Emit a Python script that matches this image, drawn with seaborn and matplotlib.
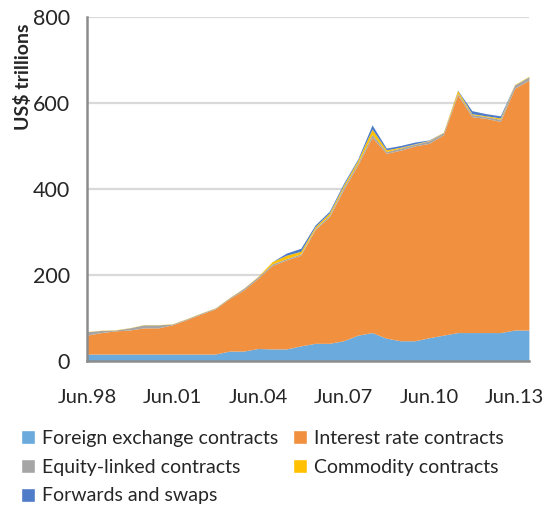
import numpy as np
import pandas as pd
import matplotlib
matplotlib.use("Agg")
import matplotlib.pyplot as plt
import seaborn as sns
from matplotlib.patches import Patch

# half-yearly observations, Jun.98 .. Dec.13
periods = [f"{m}.{y:02d}" for y in list(range(98, 100)) + list(range(0, 14)) for m in ("Jun", "Dec")]
tick_labels = ["Jun.98", "Jun.01", "Jun.04", "Jun.07", "Jun.10", "Jun.13"]

fx = [16, 16, 16, 16, 16, 16, 16, 16, 16, 16, 23, 23, 29, 28, 28, 35,
      41, 41, 47, 60, 66, 53, 47, 47, 54, 60, 66, 66, 66, 66, 72, 72]
fx_plus_ir = [60, 66, 70, 72, 77, 77, 84, 96, 109, 121, 145, 165, 192, 222, 235, 246,
              305, 335, 398, 456, 520, 483, 490, 500, 506, 526, 619, 568, 564, 557, 634, 653]
equity = [8, 5, 2, 5, 7, 7, 2, 2, 2, 2, 2, 4, 4, 4, 3, 3,
          3, 4, 6, 5, 7, 4, 5, 4, 6, 5, 4, 5, 4, 5, 8, 8]
commodity = [0.5, 0.5, 0.5, 0.5, 0.5, 0.5, 0.5, 0.5, 0.5, 0.5, 0.5, 0.5, 1, 5, 8, 6,
             4, 5, 5, 6, 12, 4, 2, 1, 1, 1, 6, 2, 2, 3, 1, 1]
forwards = [0, 0, 0, 0, 0, 0, 0, 0, 0, 0, 0, 0, 0, 0, 5, 7,
            4, 4, 4, 3, 10, 4, 4, 4, 1, 0, 1, 7, 5, 5, 0, 0]

interest = [t - f for t, f in zip(fx_plus_ir, fx)]

df = pd.DataFrame({
    "period": periods,
    "Foreign exchange contracts": fx,
    "Interest rate contracts": interest,
    "Equity-linked contracts": equity,
    "Commodity contracts": commodity,
    "Forwards and swaps": forwards,
})

colors = {
    "Foreign exchange contracts": "#6BAADC",
    "Interest rate contracts": "#F1913F",
    "Equity-linked contracts": "#A5A5A5",
    "Commodity contracts": "#FFC000",
    "Forwards and swaps": "#4E7CC8",
}
series = list(colors.keys())

sns.set_style("white")
plt.rcParams["font.family"] = ["Lato", "DejaVu Sans"]

fig = plt.figure(figsize=(5.43, 5.12), dpi=100)
ax = fig.add_axes([0.160, 0.295, 0.814, 0.672])

x = np.arange(len(df))
ax.stackplot(x, [df[s] for s in series], colors=[colors[s] for s in series], linewidth=0)

ax.set_xlim(0, len(df) - 1)
ax.set_ylim(0, 800)
ax.set_yticks([0, 200, 400, 600, 800])
ax.yaxis.grid(True, color="#D9D9D9", linewidth=1.6)
ax.set_axisbelow(True)

ax.set_xticks(x, minor=True)
ax.set_xticks([periods.index(t) for t in tick_labels])
ax.set_xticklabels(tick_labels)
ax.tick_params(axis="x", which="both", direction="out", length=6, width=1.2,
               color="#888888", labelsize=14.5, pad=14)
ax.tick_params(axis="y", length=0, labelsize=15.5, pad=12)

sns.despine(ax=ax, top=True, right=True)
for side in ("left", "bottom"):
    ax.spines[side].set_color("#8C8C8C")
    ax.spines[side].set_linewidth(1.8)

ax.set_ylabel("US$ trillions", fontsize=14, fontweight="bold", labelpad=4)
ax.yaxis.set_label_coords(-0.125, 0.825)

# legend filled row by row as in the reference
order = ["Foreign exchange contracts", "Equity-linked contracts", "Forwards and swaps",
         "Interest rate contracts", "Commodity contracts"]
handles = [Patch(facecolor=colors[s], label=s) for s in order]
fig.legend(handles=handles, loc="upper left", bbox_to_anchor=(0.038, 0.16), ncol=2,
           frameon=False, fontsize=14, handlelength=0.75, handleheight=0.75,
           handletextpad=0.35, columnspacing=0.75, labelspacing=0.6,
           borderpad=0, borderaxespad=0)

fig.savefig("out.png", dpi=100)
